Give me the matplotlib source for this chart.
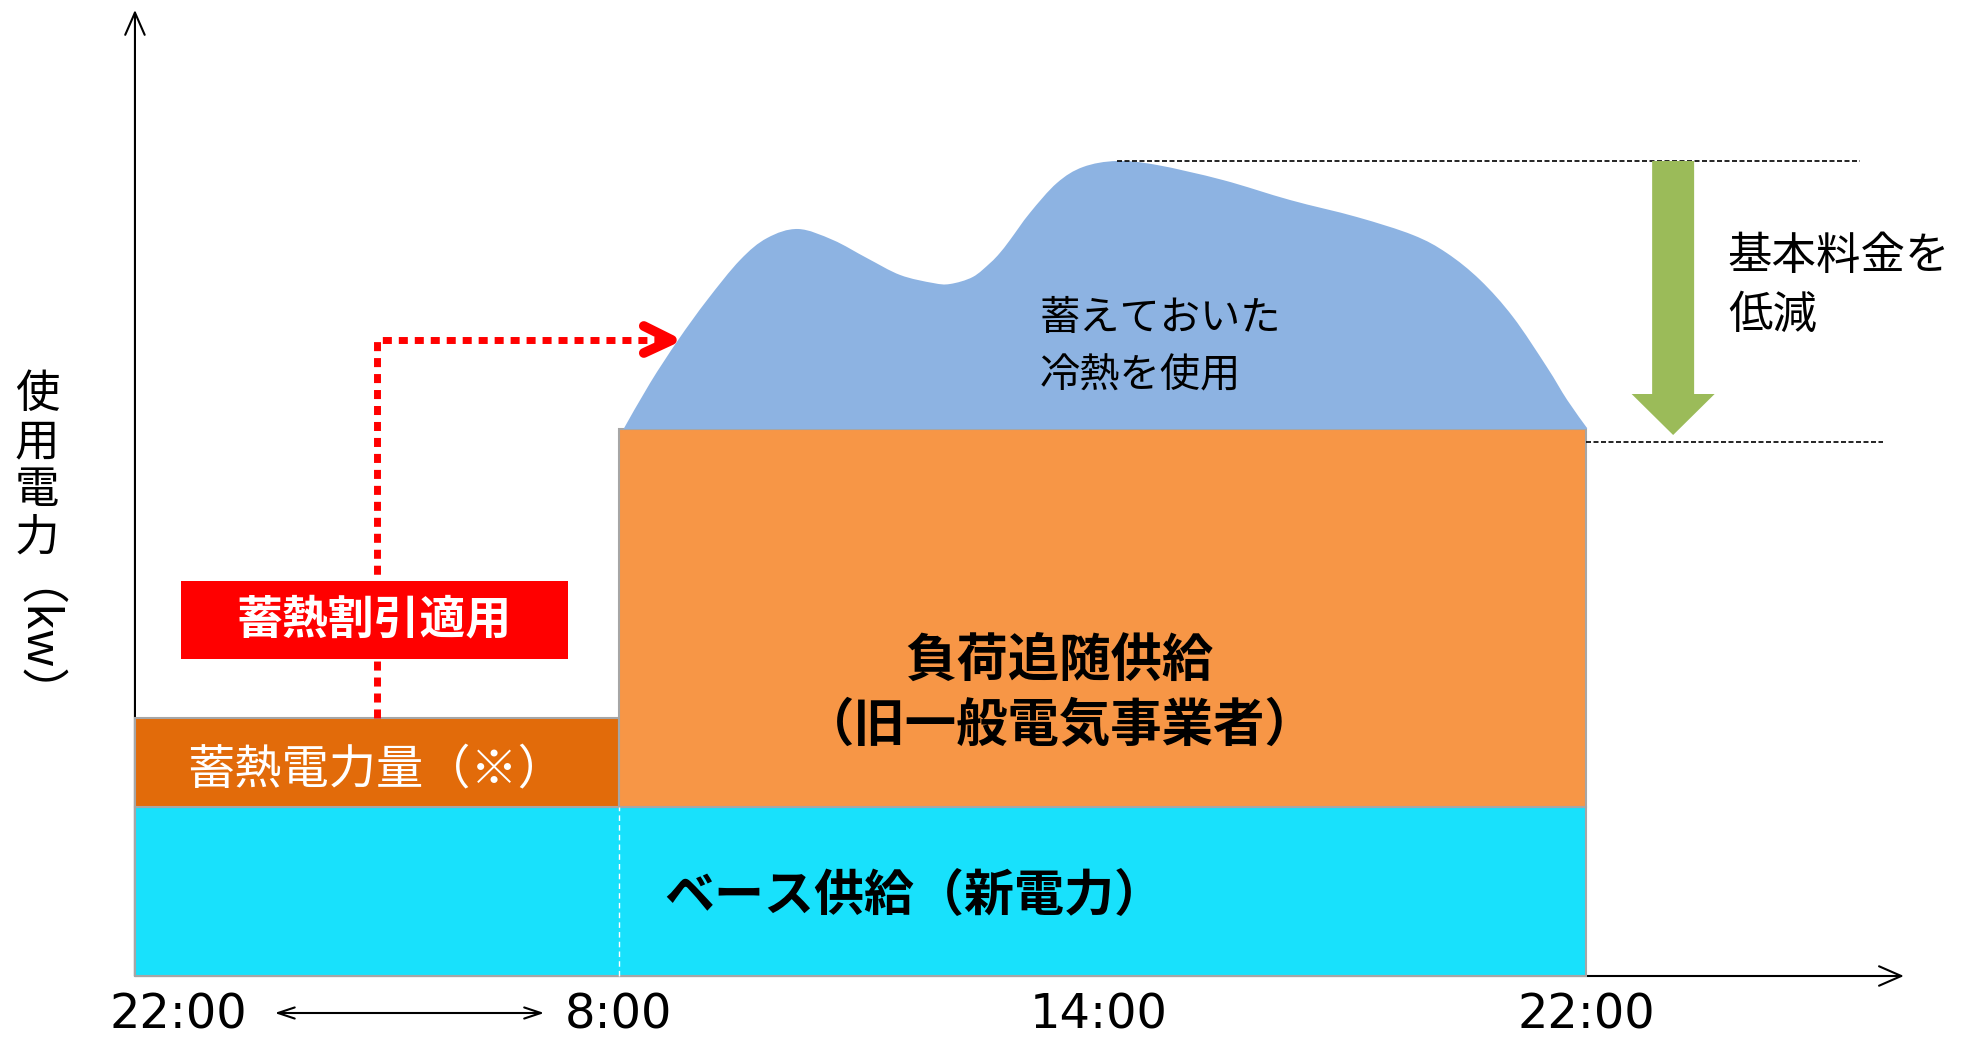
import matplotlib
matplotlib.use('Agg')
import matplotlib.pyplot as plt
from matplotlib.path import Path
from matplotlib.patches import PathPatch

plt.rcParams['font.family'] = ['Noto Sans CJK JP', 'DejaVu Sans']

# ---------------- data ----------------
tick_pos = [0.089, 1, 1.993, 3]
tick_labels = ['22:00', '8:00', '14:00', '22:00']

night_start, night_end, day_end = 0, 1, 3      # 22:00 -> 8:00 -> 22:00
base_supply = 16.9        # ベース供給（新電力）
storage_power = 8.9       # 蓄熱電力量（※） (night, on top of base)
load_follow = 37.8        # 負荷追随供給 (day, on top of base)

demand_x = [1.009, 1.065, 1.123, 1.183, 1.251, 1.307, 1.371, 1.443, 1.513,
            1.582, 1.650, 1.685, 1.732, 1.768, 1.788, 1.809, 1.850, 1.906,
            1.960, 2.030, 2.113, 2.249, 2.388, 2.526, 2.642, 2.712, 2.781,
            2.849, 2.919, 2.961, 3.002]
demand_y = [54.6, 59.3, 63.6, 67.6, 71.6, 73.8, 74.7, 73.6, 71.8,
            70.1, 69.3, 69.2, 69.9, 71.3, 72.3, 73.6, 76.3, 79.3,
            80.9, 81.5, 81.1, 79.6, 77.6, 75.9, 74.1, 72.3, 69.6,
            65.9, 60.9, 57.6, 54.8]

peak_level = 81.5
cut_level = 53.4
arrow_tip_level = 54.1
route_level = 63.6

ylabel_chars = ['使', '用', '電', '力']
ylabel_unit = '（kw）'

# ---------------- colors ----------------
c_base = '#18E1FC'
c_storage = '#E26B0A'
c_load = '#F79646'
c_cool = '#8DB3E2'
c_green = '#9BBB59'
c_red = '#FF0000'
c_edge = '#A6A6A6'

fig = plt.figure(figsize=(19.74, 10.38), dpi=100)
ax = fig.add_axes([0, 0, 1, 1])
ax.set_xlim(-0.279, 3.802)
ax.set_ylim(-6.2, 97.6)
ax.axis('off')

# axes arrows
ax.annotate('', xy=(0, 96.6), xytext=(0, 0),
            arrowprops=dict(arrowstyle='->,head_length=1.6,head_width=0.7',
                            lw=1.5, color='black', shrinkA=0, shrinkB=0), zorder=1)
ax.annotate('', xy=(3.657, 0), xytext=(0, 0),
            arrowprops=dict(arrowstyle='->,head_length=1.6,head_width=0.7',
                            lw=1.5, color='black', shrinkA=0, shrinkB=0), zorder=1)

# stacked blocks
ax.bar(night_start, base_supply, width=day_end - night_start, align='edge',
       color=c_base, edgecolor=c_edge, lw=1.5, zorder=2)
ax.bar(night_start, storage_power, width=night_end - night_start, bottom=base_supply,
       align='edge', color=c_storage, edgecolor=c_edge, lw=1.5, zorder=2)
ax.bar(night_end, load_follow, width=day_end - night_end, bottom=base_supply,
       align='edge', color=c_load, edgecolor=c_edge, lw=1.5, zorder=2)
ax.plot([night_end, night_end], [0, base_supply], color='white', lw=1,
        ls=(0, (4, 3)), zorder=3)

# cooled heat use: smooth curve through read points (Catmull-Rom as cubic Bezier)
pts = list(zip(demand_x, demand_y))
n = len(pts)
verts = [pts[0]]
codes = [Path.MOVETO]
for i in range(n - 1):
    p0 = pts[max(i - 1, 0)]
    p1 = pts[i]
    p2 = pts[i + 1]
    p3 = pts[min(i + 2, n - 1)]
    c1 = (p1[0] + (p2[0] - p0[0]) / 6, p1[1] + (p2[1] - p0[1]) / 6)
    c2 = (p2[0] - (p3[0] - p1[0]) / 6, p2[1] - (p3[1] - p1[1]) / 6)
    verts += [c1, c2, p2]
    codes += [Path.CURVE4] * 3
load_top = base_supply + load_follow
verts += [(demand_x[-1], load_top), (demand_x[0], load_top), pts[0]]
codes += [Path.LINETO, Path.LINETO, Path.CLOSEPOLY]
ax.add_patch(PathPatch(Path(verts, codes), facecolor=c_cool, lw=0, zorder=2))

# dashed reference lines
ax.plot([demand_x[demand_y.index(max(demand_y))], 3.566], [peak_level, peak_level],
        color='black', lw=1.2, ls=(0, (3, 1.5)), zorder=3)
ax.plot([day_end, 3.614], [cut_level, cut_level],
        color='black', lw=1.2, ls=(0, (3, 1.5)), zorder=3)

# green reduction arrow
ax.arrow(3.180, peak_level, 0, -(peak_level - arrow_tip_level), width=0.0868,
         head_width=0.1716, head_length=4.1, length_includes_head=True,
         color=c_green, lw=0, zorder=3)

# red dotted route
mid_night = (night_start + night_end) / 2
ax.plot([mid_night, mid_night, 1.09], [base_supply + storage_power, route_level, route_level],
        color=c_red, lw=5, ls=(0, (1.3, 1.0)), dash_capstyle='butt', zorder=3)
ax.plot([1.052, 1.110, 1.052], [route_level + 1.4, route_level, route_level - 1.3],
        color=c_red, lw=7, solid_capstyle='round', solid_joinstyle='round', zorder=4)

# red box label
ax.bar(0.095, 7.8, width=0.80, bottom=31.7, align='edge', color=c_red, lw=0, zorder=4)
ax.text(0.495, 35.6, '蓄熱割引適用', color='white', fontsize=33, fontweight='bold',
        ha='center', va='center', zorder=5)

# block labels
ax.text(0.1075, 20.6, '蓄熱電力量（※）', color='white', fontsize=34,
        ha='left', va='center', zorder=5)
ax.text(1.912, 31.6, '負荷追随供給', color='black', fontsize=37, fontweight='bold',
        ha='center', va='center', zorder=5)
ax.text(1.912, 25.1, '（旧一般電気事業者）', color='black', fontsize=37, fontweight='bold',
        ha='center', va='center', zorder=5)
ax.text(1.095, 8.0, 'ベース供給（新電力）', color='black', fontsize=36, fontweight='bold',
        ha='left', va='center', zorder=5)
ax.text(1.871, 65.7, '蓄えておいた', color='black', fontsize=29,
        ha='left', va='center', zorder=5)
ax.text(1.871, 60.0, '冷熱を使用', color='black', fontsize=29,
        ha='left', va='center', zorder=5)
ax.text(3.293, 72.0, '基本料金を', color='black', fontsize=32,
        ha='left', va='center', zorder=5)
ax.text(3.293, 66.1, '低減', color='black', fontsize=32,
        ha='left', va='center', zorder=5)

# y label (vertical)
for i, ch in enumerate(ylabel_chars):
    ax.text(-0.2026, 58.2 - 4.8 * i, ch, fontsize=32, ha='center', va='center')
ax.text(-0.262, 30.9, ylabel_unit, fontsize=34, rotation=270, rotation_mode='anchor',
        ha='center', va='center')

# x tick labels
for p, lab in zip(tick_pos, tick_labels):
    ax.text(p, -3.9, lab, fontsize=34.5, family='DejaVu Sans',
            ha='center', va='center')
ax.annotate('', xy=(0.846, -3.7), xytext=(0.289, -3.7),
            arrowprops=dict(arrowstyle='<->,head_length=1.2,head_width=0.4',
                            lw=1.5, color='black', shrinkA=0, shrinkB=0))

fig.savefig('out.png', dpi=100)
